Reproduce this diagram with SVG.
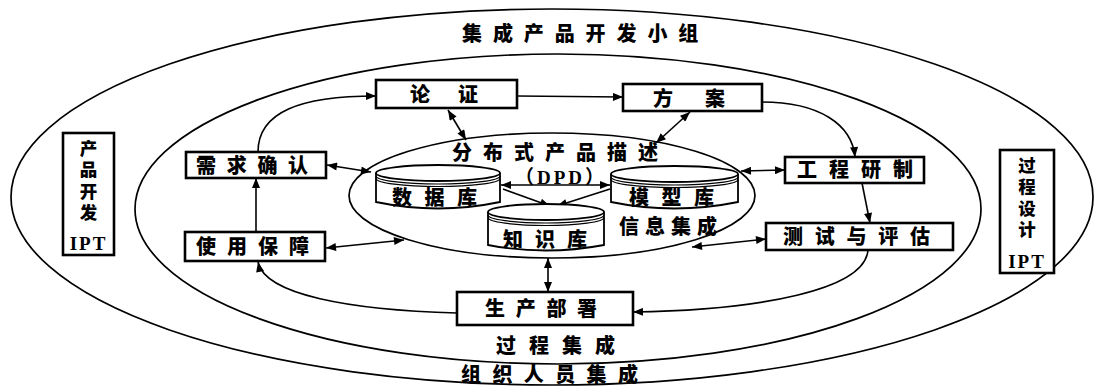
<svg xmlns="http://www.w3.org/2000/svg" width="1099" height="387" viewBox="0 0 1099 387">
<style>
.ring{fill:none;stroke:#000;stroke-width:1.7}
.box{fill:#fff;stroke:#000;stroke-width:2.6}
.cyl{fill:#fff;stroke:#000;stroke-width:1.8}
.rim{fill:none;stroke:#000;stroke-width:1.2}
.t{font-family:"Noto Sans CJK SC","Noto Sans CJK JP",sans-serif;font-weight:900;font-size:20px;fill:#000}
.v{font-size:17.5px;writing-mode:vertical-rl;letter-spacing:4px}
.lat{font-family:"Liberation Serif","Noto Sans CJK SC",serif;font-weight:bold;font-size:19px;fill:#000}
.c{fill:none;stroke:#000;stroke-width:1.6}
</style>
<defs>
<marker id="ah" viewBox="0 0 10 8" refX="10" refY="4" markerWidth="11" markerHeight="8" markerUnits="userSpaceOnUse" orient="auto-start-reverse">
<path d="M0,0 L10,4 L0,8 z" fill="#000"/>
</marker>
</defs>
<rect width="1099" height="387" fill="#fff"/>

<g id="rings">
<ellipse class="ring" cx="552" cy="197" rx="541" ry="188"/>
<ellipse class="ring" cx="558" cy="209" rx="423" ry="155"/>
<ellipse class="ring" cx="552" cy="195.5" rx="203" ry="62.5"/>
</g>

<g id="labels">
<text class="t" x="462" y="41" letter-spacing="10.9">集成产品开发小组</text>
<text class="t" x="461" y="382" letter-spacing="11.4">组织人员集成</text>
<text class="t" x="496" y="353" letter-spacing="13">过程集成</text>
<text class="t" x="452" y="160" font-size="19.5" letter-spacing="11">分布式产品描述</text>
<text class="lat" x="515" y="184" font-size="17" letter-spacing="3">（DPD）</text>
<text class="t" x="619" y="234" letter-spacing="6">信息集成</text>
</g>

<g id="connectors">
<path class="c" d="M258,152 C258,112 300,96 376,96" marker-end="url(#ah)"/>
<path class="c" d="M517,96 L623,97" marker-end="url(#ah)"/>
<path class="c" d="M762,102 C820,102 852,125 855,157" marker-end="url(#ah)"/>
<path class="c" d="M862,183 L870,223" marker-end="url(#ah)"/>
<path class="c" d="M868,250 C865,290 760,310 633,312" marker-end="url(#ah)"/>
<path class="c" d="M457,313 C350,310 265,295 258,262" marker-end="url(#ah)"/>
<path class="c" d="M256,232 L256,178" marker-end="url(#ah)"/>
<path class="c" d="M448,110 L466,140" marker-start="url(#ah)" marker-end="url(#ah)"/>
<path class="c" d="M690,112 L656,143" marker-start="url(#ah)" marker-end="url(#ah)"/>
<path class="c" d="M327,165 L371,172" marker-start="url(#ah)" marker-end="url(#ah)"/>
<path class="c" d="M785,170 L741,171" marker-start="url(#ah)" marker-end="url(#ah)"/>
<path class="c" d="M766,239 L692,247" marker-start="url(#ah)" marker-end="url(#ah)"/>
<path class="c" d="M326,248 L404,240" marker-start="url(#ah)" marker-end="url(#ah)"/>
<path class="c" d="M548,258 L548,292" marker-start="url(#ah)" marker-end="url(#ah)"/>
<path class="c" d="M501,185 L610,185" marker-start="url(#ah)" marker-end="url(#ah)"/>
<path class="c" d="M503,189 L550,206" marker-end="url(#ah)"/>
<path class="c" d="M610,189 L557,206" marker-end="url(#ah)"/>
</g>

<g id="db-shuju">
<path class="cyl" d="M376,173 L376,202 Q438,215 500,202 L500,173"/>
<ellipse class="cyl" cx="438" cy="173" rx="62" ry="8"/>
<path class="rim" d="M376,176 A62,8 0 0 0 500,176"/>
<path class="rim" d="M376,178.5 A62,8 0 0 0 500,178.5"/>
<text class="t" x="392" y="205" letter-spacing="12.5">数据库</text>
</g>

<g id="db-moxing">
<path class="cyl" d="M611,174 L611,202 Q674.5,215 738,202 L738,174"/>
<ellipse class="cyl" cx="674.5" cy="174" rx="63.5" ry="8"/>
<path class="rim" d="M611,177 A63.5,8 0 0 0 738,177"/>
<path class="rim" d="M611,179.5 A63.5,8 0 0 0 738,179.5"/>
<text class="t" x="629" y="205" letter-spacing="12.5">模型库</text>
</g>

<g id="db-zhishi">
<path class="cyl" d="M488,212 L488,245 Q546,256 604,245 L604,212"/>
<ellipse class="cyl" cx="546" cy="212" rx="58" ry="8"/>
<path class="rim" d="M488,215 A58,8 0 0 0 604,215"/>
<path class="rim" d="M488,217.5 A58,8 0 0 0 604,217.5"/>
<text class="t" x="503" y="247" letter-spacing="12">知识库</text>
</g>

<g id="n-lunzheng">
<rect class="box" x="376" y="80" width="141" height="28"/>
<text class="t" x="410" y="102" letter-spacing="11.75">论 证</text>
</g>
<g id="n-fangan">
<rect class="box" x="623" y="84" width="139" height="27"/>
<text class="t" x="653" y="106" letter-spacing="13.75">方 案</text>
</g>
<g id="n-xuqiu">
<rect class="box" x="186" y="152" width="140" height="26"/>
<text class="t" x="196" y="173" letter-spacing="10.7">需求确认</text>
</g>
<g id="n-shiyong">
<rect class="box" x="185" y="232" width="140" height="29"/>
<text class="t" x="196" y="254" letter-spacing="11">使用保障</text>
</g>
<g id="n-gongcheng">
<rect class="box" x="785" y="157" width="139" height="26"/>
<text class="t" x="797" y="177" letter-spacing="12">工程研制</text>
</g>
<g id="n-ceshi">
<rect class="box" x="766" y="223" width="187" height="27"/>
<text class="t" x="783" y="244" letter-spacing="11.75">测试与评估</text>
</g>
<g id="n-shengchan">
<rect class="box" x="457" y="292" width="176" height="33"/>
<text class="t" x="485" y="316" letter-spacing="10.7">生产部署</text>
</g>

<g id="n-ipt-left">
<rect class="box" x="63" y="133" width="51" height="122"/>
<text class="t v" x="88.5" y="139.5">产品开发</text>
<text class="lat" x="88.5" y="250" text-anchor="middle" letter-spacing="2">IPT</text>
</g>
<g id="n-ipt-right">
<rect class="box" x="1000" y="150" width="54" height="123"/>
<text class="t v" x="1027" y="156.5">过程设计</text>
<text class="lat" x="1027" y="268" text-anchor="middle" letter-spacing="2">IPT</text>
</g>
</svg>
